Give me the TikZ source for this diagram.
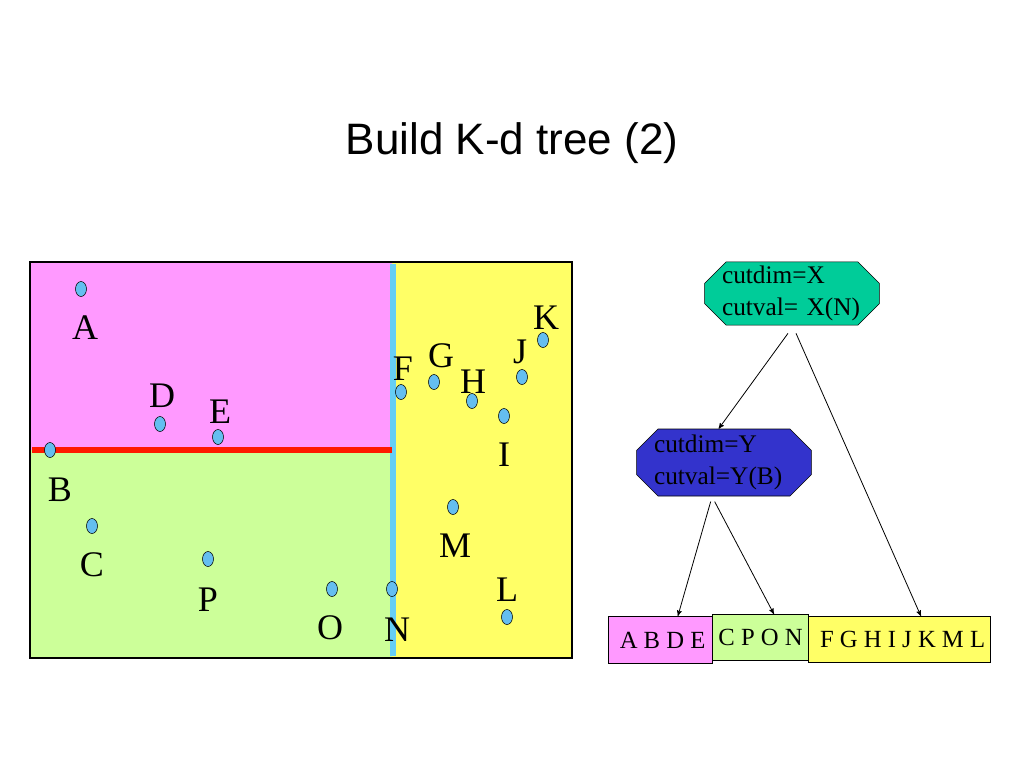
\documentclass[tikz,border=0pt]{standalone}
\usepackage{fontspec}
\setmainfont{Liberation Serif}
\newfontfamily\titlefont{Liberation Sans}
\usetikzlibrary{shapes.misc,shapes.geometric,arrows}
\definecolor{ptblue}{RGB}{100,190,240}
\definecolor{regmag}{RGB}{255,153,255}
\definecolor{reggrn}{RGB}{204,255,153}
\definecolor{regyel}{RGB}{255,255,102}
\definecolor{rootgrn}{RGB}{0,204,153}
\definecolor{cutblue}{RGB}{51,51,204}
\begin{document}
\begin{tikzpicture}[x=0.75pt,y=-0.75pt,
    pt node/.style={ellipse,draw,fill=ptblue,inner sep=0pt,minimum width=11*0.75pt,minimum height=15*0.75pt},
    lab node/.style={font=\fontsize{27}{30}\selectfont},
    cut node/.style={chamfered rectangle,chamfered rectangle xsep=13pt,draw,align=left,font=\fontsize{19}{24}\selectfont,inner sep=0pt},
    leaf node/.style={draw,thick,font=\fontsize{18.5}{20}\selectfont,anchor=north west,inner sep=0pt},
    ]
   \useasboundingbox (0,0) rectangle (1024,768);
   \node[font=\titlefont\fontsize{33}{36}\selectfont] (title) at (512,143) {Build K-d tree (2)};
   % regions
   \fill[regmag] (30,262) rectangle (392,450);
   \fill[reggrn] (30,450) rectangle (392,658);
   \fill[regyel] (392,262) rectangle (572,658);
   \draw[cyan!60,line width=4] (393,264) -- (393,656);
   \draw[red!80!orange,line width=4] (32,450) -- (392,450);
   \draw[line width=2] (30,262) rectangle (572,658);
   % points
   \foreach \n/\x/\y in {A/81/289,D/160/424,E/218/437,B/50/450,C/92/526,P/208/559,O/332/589,N/392/589,
       F/401/392,G/434/382,H/472/401,I/504/416,J/522/377,K/543/340,M/453/507,L/507/617}
     \node[pt node] (p\n) at (\x,\y) {};
   \foreach \n/\x/\y in {A/85/328,D/162/396,E/220/412,B/60/490,C/92/565,P/208/600,O/330/628,N/397/630,
       F/403/369,G/441/356,H/473/382,I/504/455,J/520/352,K/546/318,M/455/546,L/507/590}
     \node[lab node] (l\n) at (\x,\y) {\n};
   % tree
   \node[cut node,fill=rootgrn,minimum width=160*0.75pt,minimum height=63*0.75pt,text width=140*0.75pt] (root) at (792,293.5) {cutdim=X\\cutval= X(N)};
   \node[cut node,fill=cutblue,minimum width=160*0.75pt,minimum height=67*0.75pt,text width=140*0.75pt] (left) at (724,462.5) {cutdim=Y\\cutval=Y(B)};
   \node[leaf node,fill=regmag,minimum width=104*0.75pt,minimum height=47*0.75pt] (lfa) at (608,616) {\,A B D E};
   \node[leaf node,fill=reggrn,minimum width=96*0.75pt,minimum height=46*0.75pt] (lfb) at (712,614) {C P O N};
   \node[leaf node,fill=regyel,minimum width=182*0.75pt,minimum height=46*0.75pt] (lfc) at (808,616) {\ F G H I J K M L};
   \draw[semithick,-stealth'] ([xshift=-3pt,yshift=-6pt]root.south) -- ([xshift=-4pt]left.north);
   \draw[semithick,-stealth'] ([xshift=3pt,yshift=-6pt]root.south) -- ([xshift=16pt]lfc.north);
   \draw[semithick,-stealth'] ([xshift=-10pt,yshift=-4pt]left.south) -- ([xshift=13pt]lfa.north);
   \draw[semithick,-stealth'] ([xshift=-7pt,yshift=-4pt]left.south) -- ([xshift=10pt]lfb.north);
\end{tikzpicture}
\end{document}
